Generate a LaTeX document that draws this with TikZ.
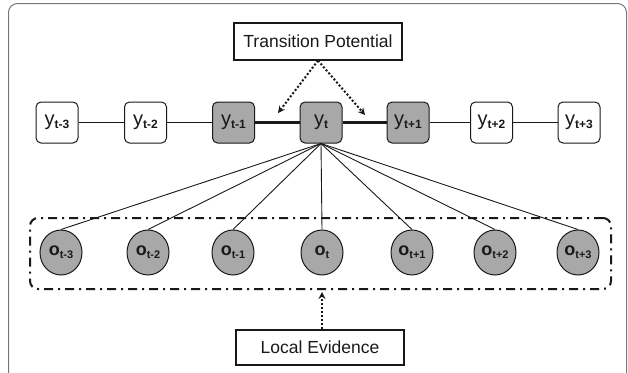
\documentclass[tikz,border=0pt]{standalone}
\usepackage{fontspec}
\setmainfont{Liberation Sans}
\usetikzlibrary{shapes.geometric,arrows.meta}
\definecolor{nodefill}{RGB}{168,168,168}
\definecolor{framegray}{RGB}{120,120,120}
\definecolor{ink}{RGB}{25,25,25}
\newcommand{\ylab}[1]{{\fontsize{20}{20}\selectfont y}\raisebox{-0.5ex}{\fontsize{12}{12}\selectfont\bfseries #1}}
\newcommand{\olab}[1]{{\fontsize{18}{18}\selectfont\bfseries o}\raisebox{-0.55ex}{\fontsize{11}{11}\selectfont\bfseries #1}}
\begin{document}
\begin{tikzpicture}[x=1pt,y=-1pt,
  ybox/.style={draw=ink,line width=1pt,rounded corners=5pt,minimum width=42pt,minimum height=41pt,inner sep=0pt,text=ink,fill=white},
  yshade/.style={ybox,fill=nodefill},
  obs/.style={draw=ink,line width=1pt,ellipse,minimum width=42pt,minimum height=45pt,inner sep=0pt,fill=nodefill,text=ink},
  labelbox/.style={draw=ink,line width=1.1pt,inner sep=0pt,text=ink,font=\fontsize{17.5}{17.5}\selectfont},
  thin/.style={draw=ink,line width=0.9pt},
  thick/.style={draw=ink,line width=2.4pt},
  dotarrow/.style={draw=ink,line width=2pt,dash pattern=on 2pt off 2pt,-{Stealth[length=7pt,width=7pt]}}
]
\useasboundingbox (0,0) rectangle (628,372);
\draw[framegray,line width=1pt,rounded corners=9pt] (8.5,390) -- (8.5,3.5) -- (626.5,3.5) -- (626.5,390);

% top row
\node[ybox]   (y1) at (57,122.5)   {\ylab{t-3}};
\node[ybox]   (y2) at (145.5,122.5){\ylab{t-2}};
\node[yshade] (y3) at (233.5,122.5){\ylab{t-1}};
\node[yshade] (y4) at (321,122.5)  {\ylab{t}};
\node[yshade] (y5) at (408,122.5)  {\ylab{t+1}};
\node[ybox]   (y6) at (491.5,122.5){\ylab{t+2}};
\node[ybox]   (y7) at (579,122.5)  {\ylab{t+3}};

\draw[thin] (y1) -- (y2);
\draw[thin] (y2) -- (y3);
\draw[thick] (y3) -- (y4);
\draw[thick] (y4) -- (y5);
\draw[thin] (y5) -- (y6);
\draw[thin] (y6) -- (y7);

% observations
\node[obs] (o1) at (61,252.5)  {\olab{t-3}};
\node[obs] (o2) at (148,252.5) {\olab{t-2}};
\node[obs] (o3) at (233,252.5) {\olab{t-1}};
\node[obs] (o4) at (322,252.5) {\olab{t}};
\node[obs] (o5) at (412,252.5) {\olab{t+1}};
\node[obs] (o6) at (495,252.5) {\olab{t+2}};
\node[obs] (o7) at (578,252.5) {\olab{t+3}};

\foreach \i in {1,...,7}{\draw[thin] (y4.south) -- (o\i.north);}

% local evidence group
\node[draw=ink,line width=2pt,rounded corners=8pt,dash pattern=on 9pt off 5pt on 2pt off 5pt,
      minimum width=581pt,minimum height=71pt] (grp) at (320.5,253.5) {};

% label boxes
\node[labelbox,minimum width=168pt,minimum height=37pt] (tp) at (318,41.5) {Transition Potential};
\node[labelbox,minimum width=168pt,minimum height=35pt] (le) at (320,347.5) {Local Evidence};

\coordinate (ta) at (278,113);
\coordinate (tb) at (365,115);
\draw[dotarrow] (tp.south) -- (ta);
\draw[dotarrow] (tp.south) -- (tb);
\draw[dotarrow] (le.north -| 322,0) -- (322,292);
\end{tikzpicture}
\end{document}
